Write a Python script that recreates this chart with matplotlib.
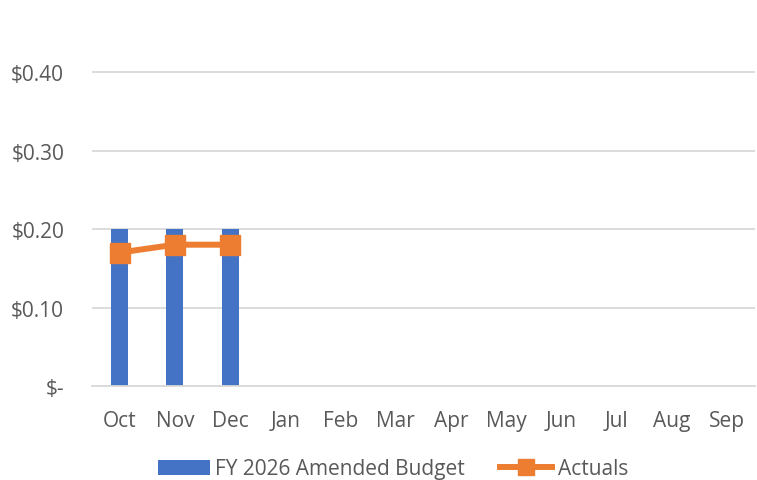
import matplotlib
matplotlib.use("Agg")
import matplotlib.pyplot as plt
import numpy as np

months = ["Oct", "Nov", "Dec", "Jan", "Feb", "Mar", "Apr", "May", "Jun", "Jul", "Aug", "Sep"]
budget = [0.20, 0.20, 0.20]
actuals = [0.17, 0.18, 0.18]
yticks = [0.0, 0.10, 0.20, 0.30, 0.40]
ytick_labels = ["$-", "$0.10", "$0.20", "$0.30", "$0.40"]

plt.rcParams['font.family'] = ['Open Sans', 'DejaVu Sans']
gray = "#595959"

fig = plt.figure(figsize=(7.57, 4.81), dpi=100)
ax = fig.add_axes([92/757, 1 - 387/481, (755-92)/757, 387/481])

x = np.arange(len(months))
bars = ax.bar(x[:len(budget)], budget, width=0.31, color="#4472C4", label="FY 2026 Amended Budget", zorder=2)
line, = ax.plot(x[:len(actuals)], actuals, color="#ED7D31", lw=4.3, marker="s", ms=14.5, label="Actuals", zorder=3)

ax.set_xlim(-0.5, len(months) - 0.5)
ax.set_ylim(0, 0.493)
ax.set_yticks(yticks)
ax.set_yticklabels(ytick_labels)
ax.set_xticks(x)
ax.set_xticklabels(months)
ax.grid(axis="y", color="#D9D9D9", lw=1.3, zorder=0)
for s in ["top", "right", "left"]:
    ax.spines[s].set_visible(False)
ax.spines["bottom"].set_color("#D9D9D9")
ax.spines["bottom"].set_linewidth(1.3)
ax.tick_params(length=0, labelsize=15, colors=gray)
ax.tick_params(axis="x", pad=17)
ax.tick_params(axis="y", pad=20)

leg = fig.legend([bars, line], ["FY 2026 Amended Budget", "Actuals"],
                 loc="center", bbox_to_anchor=(393/757, 1 - 470/481), ncol=2, frameon=False,
                 fontsize=15, labelcolor=gray, handlelength=2.5, columnspacing=1.7,
                 handletextpad=0.25, markerscale=0.75, borderpad=0)
fig.savefig("out.png", dpi=100)
